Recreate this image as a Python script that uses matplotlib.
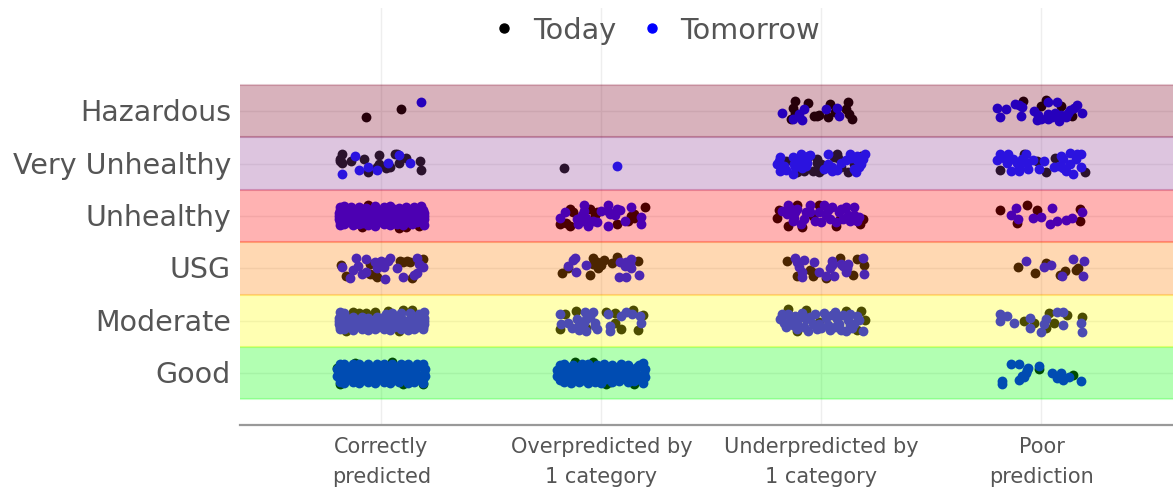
import matplotlib
matplotlib.use("Agg")
import matplotlib.pyplot as plt
import matplotlib.transforms as mtransforms

levels = ["Good", "Moderate", "USG", "Unhealthy", "Very Unhealthy", "Hazardous"]
band_colors = ["#00ff00", "#ffff00", "#ff7e00", "#ff0000", "#8f3f97", "#7e0023"]
outcomes = ["Correctly\npredicted", "Overpredicted by\n1 category", "Underpredicted by\n1 category", "Poor\nprediction"]

# jitter offsets (x, y) from the cell centre
today_haz_correct = [(-0.07, -0.12), (0.09, 0.05)]
tomorrow_haz_correct = [(0.18, 0.18)]
today_haz_under = [(-0.12, 0.20), (-0.13, 0.07), (-0.14, -0.15), (-0.06, 0.16), (-0.035, -0.09), (-0.01, -0.07),
                   (0.03, -0.12), (0.04, 0.13), (0.12, 0.18), (0.11, 0.04), (0.14, -0.15), (0.06, -0.02),
                   (-0.12, -0.03), (-0.02, -0.09), (0.125, -0.05)]
tomorrow_haz_under = [(-0.18, -0.03), (-0.13, -0.15), (-0.09, -0.17), (-0.08, 0.04), (-0.10, -0.06), (0.02, 0.04),
                      (0.07, 0.07), (0.08, -0.10)]
today_haz_poor = [(-0.085, 0.20), (0.0, 0.10), (0.02, 0.21), (0.09, 0.10), (0.14, -0.09)]
tomorrow_haz_poor = [(-0.20, 0.07), (-0.16, 0.04), (-0.19, -0.11), (-0.12, 0.13), (-0.09, 0.08), (-0.095, -0.09),
                     (-0.035, 0.01), (-0.02, -0.17), (0.03, 0.18), (0.07, 0.17), (0.03, -0.15), (0.08, -0.19),
                     (0.11, -0.12), (0.12, -0.03), (0.16, 0.12), (0.185, -0.03), (0.06, -0.03), (0.03, -0.06),
                     (-0.10, 0.12), (-0.015, -0.08), (0.0, -0.14), (0.09, -0.07), (0.13, 0.03), (0.15, 0.06),
                     (0.05, -0.11)]

today_very_correct = [(-0.18, 0.18), (-0.19, 0.09), (-0.18, 0.02), (-0.14, 0.05), (-0.08, 0.09), (-0.06, -0.17),
                      (-0.01, 0.16), (-0.01, 0.0), (0.04, -0.07), (0.08, 0.01), (0.07, 0.19), (0.11, 0.10),
                      (0.175, 0.04), (0.18, -0.13), (-0.02, -0.07), (0.06, 0.19), (0.02, -0.08), (-0.19, 0.05)]
tomorrow_very_correct = [(-0.12, 0.15), (-0.18, -0.19), (-0.10, -0.12), (-0.06, -0.06), (-0.02, -0.12), (0.03, 0.01),
                         (0.08, 0.17), (0.13, 0.02)]
today_very_over = [(-0.17, -0.08)]
tomorrow_very_over = [(0.07, -0.05)]
today_very_under = [(-0.16, 0.05), (-0.08, -0.14), (-0.02, 0.09), (-0.01, -0.17), (-0.04, -0.14), (0.07, 0.18),
                    (0.09, -0.07), (0.12, -0.17), (0.0, -0.01), (0.18, 0.15), (-0.11, -0.17), (0.15, 0.0),
                    (0.055, 0.12), (-0.02, 0.02), (0.0, -0.12), (0.075, 0.10), (-0.06, 0.13)]
tomorrow_very_under = [(-0.19, 0.12), (-0.20, 0.0), (-0.19, -0.14), (-0.13, -0.19), (-0.125, 0.0), (-0.11, 0.09),
                       (-0.095, 0.18), (-0.06, 0.15), (-0.12, -0.07), (-0.065, 0.02), (0.03, 0.18), (0.03, 0.0),
                       (0.01, -0.10), (0.05, -0.14), (0.09, 0.02), (0.13, 0.19), (0.16, 0.15), (0.20, 0.18),
                       (0.18, 0.0), (0.155, -0.17), (0.17, -0.07), (-0.05, 0.17), (-0.195, 0.04), (-0.09, 0.04),
                       (-0.09, -0.09), (-0.13, 0.13), (-0.07, -0.05), (0.05, -0.06), (0.11, 0.07), (0.135, 0.10),
                       (0.16, 0.07), (0.19, 0.09), (0.07, -0.13), (-0.17, -0.05), (-0.16, -0.12), (0.15, -0.10)]
today_very_poor = [(-0.19, -0.12), (-0.08, 0.18), (-0.02, 0.05), (0.02, -0.17), (0.06, 0.10), (0.20, -0.17)]
tomorrow_very_poor = [(-0.19, 0.19), (-0.20, 0.07), (-0.15, 0.18), (-0.155, 0.02), (-0.14, -0.15), (-0.10, -0.15),
                      (-0.11, 0.02), (-0.09, 0.09), (-0.06, -0.10), (-0.065, 0.02), (0.01, 0.05), (-0.01, -0.10),
                      (0.08, -0.04), (0.09, 0.15), (0.13, 0.21), (0.18, 0.18), (0.155, 0.09), (0.13, 0.0),
                      (0.18, -0.07), (0.11, -0.15), (0.145, -0.20), (0.055, -0.07), (-0.17, 0.10), (-0.13, 0.09),
                      (-0.10, -0.07), (-0.04, 0.07), (-0.07, 0.19), (0.10, 0.08), (0.16, 0.19), (0.10, -0.08)]

today_unh_correct = [(-0.06, 0.21), (-0.09, -0.21), (-0.05, -0.06), (0.08, -0.22), (0.17, -0.19), (0.11, -0.21)]
tomorrow_unh_correct = [
    (-0.19, 0.17), (-0.17, 0.19), (-0.14, 0.17), (-0.10, 0.18), (-0.07, 0.16), (-0.03, 0.19), (0.01, 0.17), (0.04, 0.19),
    (0.08, 0.16), (0.11, 0.18), (0.15, 0.17), (0.18, 0.19), (-0.195, 0.06), (-0.18, 0.04), (-0.15, 0.07), (-0.11, 0.05),
    (-0.08, 0.06), (-0.04, 0.04), (0.0, 0.07), (0.03, 0.05), (0.07, 0.04), (0.10, 0.07), (0.14, 0.05), (0.195, 0.06),
    (-0.195, -0.06), (-0.17, -0.08), (-0.14, -0.05), (-0.10, -0.07), (-0.07, -0.10), (-0.02, -0.06), (0.01, -0.08),
    (0.05, -0.05), (0.08, -0.08), (0.12, -0.06), (0.16, -0.09), (0.195, -0.06), (-0.19, -0.17), (-0.17, -0.16),
    (-0.13, -0.18), (-0.10, -0.16), (-0.06, -0.17), (-0.03, -0.19), (0.01, -0.16), (0.04, -0.18), (0.07, -0.16),
    (0.10, -0.17), (0.14, -0.16), (0.195, -0.18)]
today_unh_over = [(-0.19, -0.15), (-0.145, 0.13), (-0.145, -0.185), (-0.05, 0.13), (-0.02, 0.07), (0.135, 0.0),
                  (0.20, 0.165), (0.07, -0.15), (0.12, -0.09), (-0.13, 0.08), (0.15, -0.03), (-0.16, -0.13),
                  (-0.03, 0.02), (0.15, 0.03)]
tomorrow_unh_over = [(-0.19, -0.03), (-0.165, 0.07), (-0.08, 0.20), (-0.09, 0.01), (-0.105, -0.15), (-0.06, -0.185),
                     (-0.02, -0.12), (0.0, 0.10), (0.03, 0.20), (0.04, 0.04), (0.03, -0.185), (0.06, 0.01),
                     (0.085, 0.115), (0.105, -0.09), (0.135, 0.18), (0.18, -0.01), (0.18, -0.15), (-0.07, -0.03),
                     (-0.08, 0.10), (-0.11, -0.06), (-0.07, -0.12), (-0.04, -0.09), (0.03, 0.10), (0.07, 0.14)]
today_unh_under = [(-0.195, 0.115), (-0.20, -0.045), (-0.11, 0.215), (-0.15, -0.185), (-0.01, 0.20), (0.065, -0.185),
                   (0.175, -0.15), (0.19, -0.06), (-0.04, 0.0), (0.085, -0.06), (-0.09, -0.215)]
tomorrow_unh_under = [(-0.18, 0.10), (-0.15, 0.20), (-0.155, 0.04), (-0.125, -0.03), (-0.095, -0.15), (-0.07, 0.07),
                      (-0.05, 0.20), (-0.03, -0.09), (0.01, 0.20), (0.02, 0.01), (0.05, 0.165), (0.08, 0.07),
                      (0.065, -0.12), (0.12, 0.01), (0.15, 0.165), (0.16, -0.09), (0.13, -0.09), (-0.12, 0.07),
                      (0.0, -0.12), (0.11, 0.165), (-0.08, -0.06), (-0.14, 0.13), (-0.11, 0.13), (-0.05, 0.08),
                      (-0.01, 0.08), (0.03, 0.12), (0.09, 0.13), (0.15, 0.02), (0.17, -0.01), (-0.13, -0.10),
                      (0.04, -0.05), (0.10, -0.05)]
today_unh_poor = [(-0.19, 0.115), (-0.065, 0.20), (-0.02, 0.115), (0.175, 0.135), (0.175, -0.09), (-0.11, -0.135)]
tomorrow_unh_poor = [(-0.115, 0.15), (-0.14, 0.01), (-0.105, -0.06), (-0.04, -0.045), (0.0, -0.025), (0.05, 0.15),
                     (0.04, -0.15), (0.07, -0.10), (0.11, -0.075), (0.14, -0.04), (0.185, 0.07)]

today_usg_correct = [(-0.185, 0.07), (-0.16, -0.15), (-0.03, -0.12), (0.115, 0.15), (0.19, 0.18), (0.085, 0.15),
                     (0.14, -0.19), (-0.05, 0.09), (-0.02, -0.17), (0.13, 0.12), (0.10, 0.12), (-0.05, -0.10)]
tomorrow_usg_correct = [(-0.18, 0.02), (-0.145, -0.19), (-0.13, -0.03), (-0.115, 0.20), (-0.07, 0.18), (-0.09, -0.10),
                        (-0.07, -0.07), (-0.105, 0.05), (0.0, 0.15), (-0.02, 0.0), (0.015, -0.20), (0.04, 0.20),
                        (0.01, 0.02), (0.07, 0.01), (0.10, -0.17), (0.15, -0.125), (0.16, 0.20), (0.19, 0.03),
                        (0.17, 0.08), (-0.03, 0.13), (0.03, 0.14), (0.16, -0.08)]
today_usg_over = [(-0.18, -0.09), (-0.15, 0.01), (-0.05, -0.12), (-0.04, 0.20), (0.01, 0.16), (-0.015, 0.01),
                  (0.07, 0.21), (0.165, 0.15), (-0.04, 0.09), (0.0, 0.07), (-0.02, 0.12), (0.05, 0.10)]
tomorrow_usg_over = [(-0.12, 0.19), (-0.15, 0.05), (-0.115, -0.07), (-0.07, 0.07), (0.085, 0.12), (0.135, 0.18),
                     (0.105, 0.05), (0.135, 0.0), (0.08, -0.16), (0.11, -0.16), (0.17, -0.125), (-0.13, 0.16),
                     (0.11, 0.12), (0.13, 0.08)]
today_usg_under = [(-0.155, 0.15), (0.085, 0.20), (0.16, 0.17), (0.195, 0.07), (0.145, -0.12), (-0.04, -0.15),
                   (-0.11, -0.14), (0.02, -0.19), (-0.05, -0.03), (-0.03, -0.08)]
tomorrow_usg_under = [(-0.12, 0.20), (-0.08, 0.16), (-0.035, 0.13), (-0.10, 0.02), (-0.09, -0.17), (-0.09, -0.07),
                      (-0.01, -0.07), (0.02, -0.14), (0.05, 0.15), (0.04, 0.0), (0.055, -0.14), (0.09, 0.09),
                      (0.115, 0.0), (0.11, -0.07), (0.19, 0.195), (0.195, -0.105), (-0.11, 0.12), (0.05, 0.07),
                      (0.10, 0.04), (0.12, 0.09)]
today_usg_poor = [(-0.105, 0.035), (-0.03, -0.08), (0.02, 0.10), (0.085, -0.12), (0.105, -0.055), (0.155, -0.03),
                  (0.165, 0.01)]
tomorrow_usg_poor = [(-0.07, 0.14), (0.01, 0.035), (0.045, 0.055), (0.095, -0.15), (0.145, 0.18), (0.195, 0.14),
                     (0.19, -0.14)]

today_mod_correct = [(-0.13, 0.17), (-0.10, 0.15), (-0.07, 0.14), (-0.03, 0.17), (0.03, 0.19), (0.10, 0.20),
                     (0.14, 0.20), (-0.16, -0.20), (0.08, -0.20)]
tomorrow_mod_correct = [
    (-0.19, 0.17), (-0.17, 0.15), (-0.13, 0.07), (-0.09, 0.07), (-0.06, 0.06), (-0.02, 0.07), (0.02, 0.12), (0.05, 0.14),
    (0.09, 0.14), (0.13, 0.14), (0.17, 0.13), (0.195, 0.17), (-0.195, 0.06), (-0.18, 0.04), (-0.15, 0.03), (-0.11, 0.01),
    (-0.08, 0.03), (-0.04, 0.0), (0.0, 0.06), (0.03, 0.03), (0.07, 0.05), (0.10, 0.02), (0.14, 0.04), (0.195, 0.06),
    (-0.195, -0.06), (-0.17, -0.08), (-0.14, -0.05), (-0.10, -0.07), (-0.07, -0.10), (-0.02, -0.06), (0.01, -0.08),
    (0.05, -0.05), (0.08, -0.08), (0.12, -0.06), (0.16, -0.09), (0.195, -0.07), (-0.19, -0.16), (-0.17, -0.15),
    (-0.13, -0.17), (-0.09, -0.15), (-0.06, -0.18), (-0.03, -0.16), (0.01, -0.15), (0.04, -0.18), (0.09, -0.16),
    (0.12, -0.18), (0.15, -0.16), (0.19, -0.15)]
today_mod_over = [(-0.165, 0.12), (-0.115, 0.19), (-0.19, -0.16), (0.02, 0.16), (0.06, 0.14), (0.145, 0.21),
                  (0.19, 0.11), (0.09, -0.16), (0.165, -0.18), (0.06, -0.05), (-0.07, -0.13)]
tomorrow_mod_over = [(-0.19, 0.12), (-0.185, -0.07), (-0.15, -0.04), (-0.135, -0.13), (-0.11, 0.03), (-0.075, 0.16),
                     (-0.08, -0.04), (-0.07, 0.03), (-0.04, 0.16), (-0.03, -0.04), (-0.02, -0.16), (-0.10, -0.18),
                     (-0.07, -0.19), (0.04, -0.10), (0.03, 0.12), (0.11, 0.16), (0.14, 0.12), (0.09, 0.09),
                     (0.175, 0.09), (0.18, -0.04), (0.04, -0.19), (-0.05, 0.08), (-0.10, -0.09), (-0.03, -0.10)]
today_mod_under = [(-0.15, 0.22), (0.18, 0.19), (0.20, 0.01), (-0.11, -0.20), (-0.01, -0.02), (-0.07, 0.20),
                   (0.11, 0.18), (0.16, -0.18)]
tomorrow_mod_under = [(-0.18, 0.13), (-0.19, 0.03), (-0.17, -0.05), (-0.15, 0.12), (-0.16, -0.12), (-0.12, 0.09),
                      (-0.11, -0.02), (-0.09, 0.14), (-0.08, -0.12), (-0.05, 0.07), (-0.06, -0.19), (-0.03, 0.12),
                      (-0.04, -0.06), (-0.02, -0.16), (0.01, 0.14), (0.02, 0.05), (0.03, -0.08), (0.04, -0.18),
                      (0.06, 0.16), (0.07, 0.04), (0.08, -0.07), (0.09, -0.18), (0.10, 0.11), (0.12, 0.02),
                      (0.13, -0.09), (0.11, -0.19), (0.16, 0.10), (0.17, 0.02), (0.15, -0.07), (0.19, -0.20),
                      (-0.18, 0.08), (-0.14, 0.03), (-0.13, -0.08), (-0.07, 0.04), (-0.08, 0.08), (-0.01, -0.06),
                      (0.0, -0.13), (0.05, 0.11), (0.06, -0.12), (0.13, 0.13), (0.14, -0.14), (-0.11, -0.16)]
today_mod_poor = [(-0.08, 0.0), (-0.035, -0.04), (0.035, 0.14), (0.055, -0.04), (0.115, 0.11), (0.185, 0.08),
                  (0.02, -0.13)]
tomorrow_mod_poor = [(-0.19, 0.12), (-0.19, 0.0), (-0.155, 0.09), (-0.125, -0.05), (-0.05, 0.05), (-0.05, -0.14),
                     (0.0, -0.21), (0.02, 0.03), (0.01, -0.07), (0.07, 0.17), (0.10, 0.16), (0.10, -0.09),
                     (0.18, -0.04), (0.185, -0.21)]

today_good_correct = [(-0.20, 0.10), (-0.12, 0.20), (0.05, 0.21), (0.19, -0.20), (0.10, -0.21), (-0.19, -0.20)]
tomorrow_good_correct = [
    (-0.19, 0.17), (-0.17, 0.18), (-0.13, 0.17), (-0.10, 0.18), (-0.06, 0.17), (-0.02, 0.18), (0.01, 0.17), (0.05, 0.18),
    (0.09, 0.17), (0.12, 0.18), (0.16, 0.17), (0.19, 0.18), (-0.20, 0.07), (-0.18, 0.06), (-0.14, 0.08), (-0.11, 0.06),
    (-0.07, 0.05), (-0.04, 0.07), (0.0, 0.06), (0.04, 0.08), (0.07, 0.05), (0.11, 0.07), (0.15, 0.06), (0.20, 0.07),
    (-0.20, -0.06), (-0.17, -0.07), (-0.14, -0.05), (-0.10, -0.07), (-0.07, -0.06), (-0.03, -0.08), (0.01, -0.06),
    (0.05, -0.05), (0.08, -0.07), (0.12, -0.06), (0.16, -0.08), (0.20, -0.06), (-0.19, -0.17), (-0.17, -0.18),
    (-0.13, -0.17), (-0.10, -0.18), (-0.06, -0.17), (-0.03, -0.18), (0.01, -0.17), (0.04, -0.18), (0.08, -0.17),
    (0.12, -0.18), (0.15, -0.17), (0.19, -0.18)]
today_good_over = [(-0.12, 0.21), (-0.04, 0.21), (0.04, -0.16), (0.02, -0.20), (0.15, -0.20)]
tomorrow_good_over = [
    (-0.19, 0.16), (-0.17, 0.17), (-0.13, 0.16), (-0.09, 0.17), (-0.06, 0.17), (-0.02, 0.16), (0.01, 0.17), (0.05, 0.16),
    (0.09, 0.17), (0.12, 0.15), (0.17, 0.15), (0.19, 0.19), (-0.20, 0.06), (-0.18, 0.08), (-0.14, 0.05), (-0.10, 0.07),
    (-0.07, 0.06), (-0.03, 0.04), (0.01, 0.07), (0.04, 0.05), (0.08, 0.06), (0.11, 0.04), (0.15, 0.05), (0.20, 0.07),
    (-0.20, -0.06), (-0.18, -0.08), (-0.14, -0.06), (-0.11, -0.07), (-0.07, -0.05), (-0.03, -0.07), (0.01, -0.08),
    (0.05, -0.06), (0.09, -0.05), (0.12, -0.07), (0.16, -0.06), (0.20, -0.08), (-0.19, -0.14), (-0.17, -0.16),
    (-0.14, -0.18), (-0.10, -0.17), (-0.06, -0.18), (-0.03, -0.16), (0.0, -0.18), (0.05, -0.17), (0.08, -0.15),
    (0.12, -0.17), (0.15, -0.15), (0.19, -0.18)]
today_good_poor = [(-0.01, 0.08), (0.145, -0.03)]
tomorrow_good_poor = [(-0.14, 0.17), (-0.10, 0.18), (-0.01, 0.14), (-0.06, 0.10), (-0.07, 0.01), (-0.09, -0.05),
                      (-0.10, -0.13), (-0.18, -0.15), (-0.18, -0.20), (0.05, 0.01), (0.09, 0.01), (0.07, -0.10),
                      (0.10, -0.13), (0.125, -0.08), (0.18, -0.15), (-0.08, -0.08), (-0.065, 0.06)]

# the packed middle of the four crowded cells
tomorrow_packed = [
    (-0.19, 0.115), (-0.155, 0.12), (-0.12, 0.11), (-0.085, 0.125), (-0.05, 0.11), (-0.015, 0.12), (0.02, 0.11),
    (0.055, 0.125), (0.09, 0.11), (0.125, 0.12), (0.16, 0.11), (0.19, 0.12),
    (-0.195, 0.0), (-0.16, -0.01), (-0.125, 0.01), (-0.09, 0.0), (-0.055, -0.01), (-0.02, 0.01), (0.015, 0.0),
    (0.05, -0.01), (0.085, 0.01), (0.12, 0.0), (0.155, -0.01), (0.195, 0.0),
    (-0.19, -0.115), (-0.155, -0.12), (-0.12, -0.11), (-0.085, -0.125), (-0.05, -0.11), (-0.015, -0.12), (0.02, -0.11),
    (0.055, -0.125), (0.09, -0.11), (0.125, -0.12), (0.16, -0.11), (0.19, -0.12)]

# level, outcome, today, tomorrow
cells = [
    (5, 0, today_haz_correct, tomorrow_haz_correct),
    (5, 2, today_haz_under, tomorrow_haz_under),
    (5, 3, today_haz_poor, tomorrow_haz_poor),
    (4, 0, today_very_correct, tomorrow_very_correct),
    (4, 1, today_very_over, tomorrow_very_over),
    (4, 2, today_very_under, tomorrow_very_under),
    (4, 3, today_very_poor, tomorrow_very_poor),
    (3, 0, today_unh_correct, tomorrow_unh_correct + tomorrow_packed),
    (3, 1, today_unh_over, tomorrow_unh_over),
    (3, 2, today_unh_under, tomorrow_unh_under),
    (3, 3, today_unh_poor, tomorrow_unh_poor),
    (2, 0, today_usg_correct, tomorrow_usg_correct),
    (2, 1, today_usg_over, tomorrow_usg_over),
    (2, 2, today_usg_under, tomorrow_usg_under),
    (2, 3, today_usg_poor, tomorrow_usg_poor),
    (1, 0, today_mod_correct, tomorrow_mod_correct + tomorrow_packed[12:]),
    (1, 1, today_mod_over, tomorrow_mod_over),
    (1, 2, today_mod_under, tomorrow_mod_under),
    (1, 3, today_mod_poor, tomorrow_mod_poor),
    (0, 0, today_good_correct, tomorrow_good_correct + tomorrow_packed),
    (0, 1, today_good_over, tomorrow_good_over + tomorrow_packed),
    (0, 3, today_good_poor, tomorrow_good_poor),
]

text_color = "#555555"
fig = plt.figure(figsize=(11.73, 4.89), dpi=100)
ax = fig.add_axes([240 / 1173, 1 - 426 / 489, 933 / 1173, 417 / 489])

for level, outcome, today, tomorrow in cells:
    ax.scatter([outcome + p[0] for p in today], [level + p[1] for p in today],
               s=50, color="black", linewidths=0, zorder=2)
for level, outcome, today, tomorrow in cells:
    ax.scatter([outcome + p[0] for p in tomorrow], [level + p[1] for p in tomorrow],
               s=50, color="#0000ff", linewidths=0, zorder=2.5)

# the bands sit on top of the points, which is what tints them
for i, c in enumerate(band_colors):
    ax.axhspan(i - 0.5, i + 0.5, facecolor=c, alpha=0.3, linewidth=0, zorder=3)
    ax.axhline(i - 0.5, color=c, alpha=0.2, linewidth=1.5, zorder=3)
    ax.axhline(i + 0.5, color=c, alpha=0.2, linewidth=1.5, zorder=3)

ax.set_xlim(-0.643, 3.598)
ax.set_ylim(-0.99, 6.97)
ax.set_xticks(range(len(outcomes)))
ax.set_xticklabels(outcomes, fontsize=15, color=text_color, linespacing=1.62)
ax.set_yticks(range(len(levels)))
ax.set_yticklabels(levels, fontsize=20.5, color=text_color)
ax.tick_params(axis="both", length=0)
ax.tick_params(axis="x", pad=8)
ax.tick_params(axis="y", pad=6.5)
ax.grid(True, color="#eeeeee", linewidth=1, zorder=1)
ax.set_axisbelow(True)
for side in ["top", "left", "right"]:
    ax.spines[side].set_visible(False)
ax.spines["bottom"].set_color("#999999")
ax.spines["bottom"].set_linewidth(1.6)

# nudge the level names up a little
nudge = mtransforms.ScaledTranslation(0, 2 / 100, fig.dpi_scale_trans)
for lab in ax.get_yticklabels():
    lab.set_transform(lab.get_transform() + nudge)

handles = [
    plt.Line2D([], [], linestyle="", marker="o", markersize=6.5, color="black", label="Today"),
    plt.Line2D([], [], linestyle="", marker="o", markersize=6.5, color="#0000ff", label="Tomorrow"),
]
fig.legend(handles=handles, loc="upper center", bbox_to_anchor=(652 / 1173, 1 - 3 / 489), ncol=2, frameon=False,
           fontsize=20.7, labelcolor=text_color, handletextpad=0.3, columnspacing=0.55, borderpad=0, handlelength=1.4)

plt.savefig("out.png", dpi=100)
